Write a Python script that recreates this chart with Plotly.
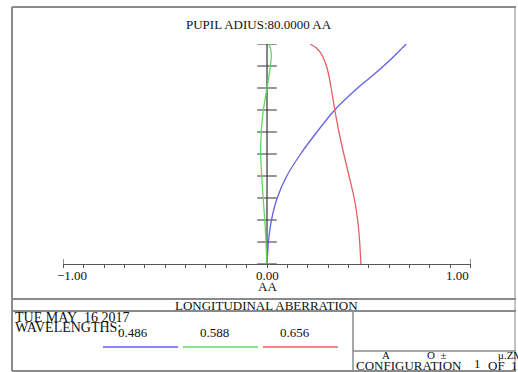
import plotly.graph_objects as go

W, H = 518, 372

# ---- data ----
pupil = [0.0, 0.1, 0.2, 0.3, 0.4, 0.5, 0.6, 0.7, 0.8, 0.85, 0.9, 0.95, 0.98, 1.0]
wl_486 = [0.0, 0.007, 0.022, 0.05, 0.097, 0.165, 0.245, 0.332, 0.445, 0.51, 0.572, 0.63, 0.662, 0.684]
wl_588 = [0.0, -0.005, -0.011, -0.019, -0.026, -0.031, -0.028, -0.018, 0.0, 0.009, 0.017, 0.021, 0.017, 0.01]
wl_656 = [0.461, 0.455, 0.445, 0.428, 0.403, 0.377, 0.353, 0.333, 0.315, 0.305, 0.292, 0.27, 0.245, 0.213]
pupil_ticks = [0.0, 0.1, 0.2, 0.3, 0.4, 0.5, 0.6, 0.7, 0.8, 0.9, 1.0]
wavelengths = ["0.486", "0.588", "0.656"]
colors = ["#6060e4", "#60d860", "#e46060"]
x_labels = ["\u22121.00", "0.00", "1.00"]

FONT = "Liberation Serif"


def px(x):
    return x / W


def py(y):
    return 1 - y / H


fig = go.Figure()

# vertical pupil axis at x=0
fig.add_trace(go.Scatter(
    x=[0.0] * len(pupil_ticks), y=pupil_ticks, mode="lines+markers",
    line=dict(color="#333333", width=1.2),
    marker=dict(symbol="line-ew", size=14, line=dict(color="#333333", width=1.2)),
    hoverinfo="skip", showlegend=False))

# end ticks of horizontal axis
fig.add_trace(go.Scatter(
    x=[-1.0, 1.0], y=[0.0, 0.0], mode="markers",
    marker=dict(symbol="line-ns", size=7, line=dict(color="#555555", width=1.2)),
    hoverinfo="skip", showlegend=False))

for vals, col, name in zip([wl_486, wl_588, wl_656], colors, wavelengths):
    fig.add_trace(go.Scatter(
        x=vals, y=pupil, mode="lines", name=name,
        line=dict(color=col, width=1.3, shape="spline", smoothing=0.5),
        showlegend=False))

fig.update_layout(
    width=W, height=H, autosize=False,
    margin=dict(l=0, r=0, t=0, b=0),
    paper_bgcolor="white", plot_bgcolor="rgba(0,0,0,0)",
    font=dict(family=FONT, color="#111111", size=13),
    xaxis=dict(domain=[px(63.3), px(470.7)], range=[-1, 1], showgrid=False,
               zeroline=False, showline=True, linecolor="#555555", linewidth=1.2,
               ticks="outside", ticklen=3, tickwidth=1, tickcolor="#555555",
               tick0=-1, dtick=0.1, showticklabels=False, fixedrange=True),
    yaxis=dict(domain=[py(264), py(44)], range=[0, 1], visible=False,
               fixedrange=True),
)

# frame lines
line_col = "#8a8a8a"
shapes = [
    dict(x0=12, x1=12, y0=7, y1=371, width=2),
    dict(x0=12, x1=516, y0=7, y1=7, width=2),
    dict(x0=515, x1=515, y0=7, y1=371, width=1),
    dict(x0=12, x1=516, y0=371, y1=371, width=2),
    dict(x0=12, x1=516, y0=299, y1=299, width=2),
    dict(x0=12, x1=516, y0=311, y1=311, width=2),
    dict(x0=353, x1=353, y0=311, y1=371, width=1.5),
    dict(x0=353, x1=516, y0=351, y1=351, width=1.5),
]
for s in shapes:
    fig.add_shape(type="line", xref="paper", yref="paper",
                  x0=px(s["x0"]), x1=px(s["x1"]), y0=py(s["y0"]), y1=py(s["y1"]),
                  line=dict(color=line_col, width=s["width"]))

# legend sample lines
for i, col in enumerate(colors):
    x0 = 103 + i * 80
    fig.add_shape(type="line", xref="paper", yref="paper",
                  x0=px(x0), x1=px(x0 + 75), y0=py(347), y1=py(347),
                  line=dict(color=col, width=1.5))


def text(x, y, s, size=13, anchor="center"):
    fig.add_annotation(xref="paper", yref="paper", x=px(x), y=py(y), text=s,
                       showarrow=False, xanchor=anchor, yanchor="middle",
                       borderpad=0,
                       font=dict(family=FONT, size=size, color="#111111"))


text(259, 25, "PUPIL ADIUS:80.0000 AA")
text(72, 275, x_labels[0])
text(267, 275, x_labels[1])
text(457, 275, x_labels[2])
text(267, 286, "AA")
text(266, 305, "LONGITUDINAL ABERRATION")
text(14, 317, "TUE MAY&nbsp;&nbsp;16 2017", size=14, anchor="left")
text(14, 327, "WAVELENGTHS:", size=14, anchor="left")
for i, w in enumerate(wavelengths):
    text(133 + i * 81, 332, w)
text(386, 355, "A", size=11)
text(436, 355, "O&nbsp;&nbsp;\u00b1", size=11)
text(497, 355, "\u03bc.ZMX", size=11, anchor="left")
text(355, 365, "CONFIGURATION", anchor="left")
text(477, 363, "1")
text(487, 365, "OF&nbsp;&nbsp;1", anchor="left")

fig.write_html("out.html")
